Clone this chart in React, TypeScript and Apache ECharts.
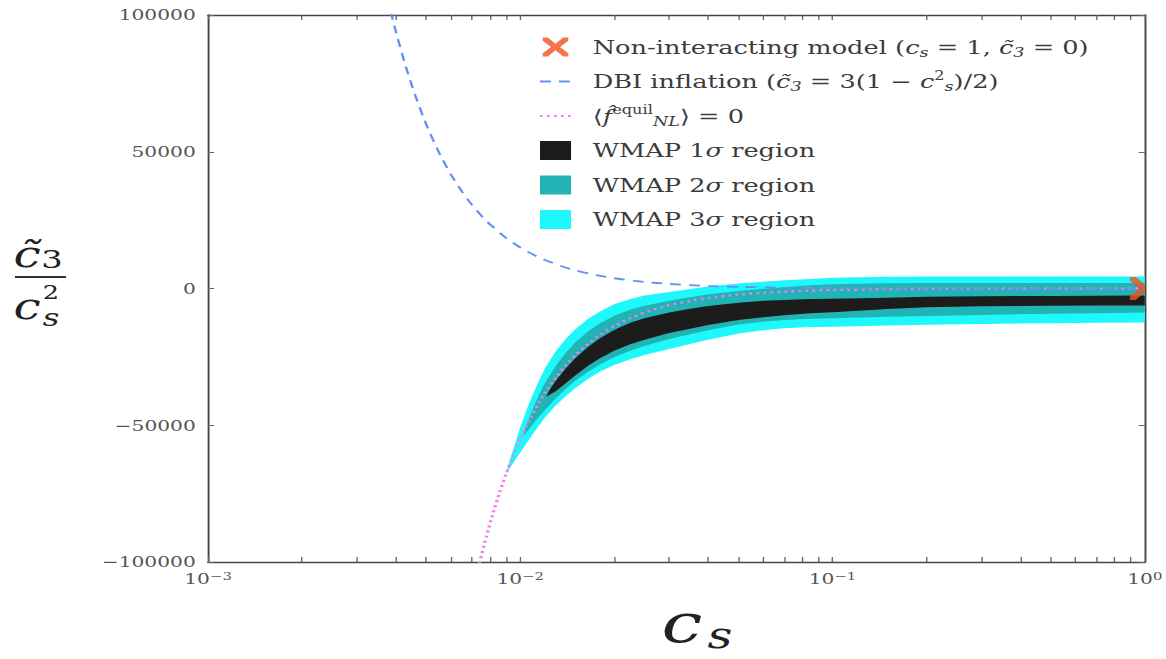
import React, { useEffect, useRef } from 'react';
import * as echarts from 'echarts';

// ---------- data ----------
const xMajorTicks = [0.001, 0.01, 0.1, 1];
const xMinorMultipliers = [2, 3, 4, 5, 6, 7, 8, 9];
const yTicks = [-100000, -50000, 0, 50000, 100000];

// DBI inflation curve (dashed blue)
const dbiX = [0.00385, 0.004, 0.0043, 0.0046, 0.005, 0.0055, 0.006, 0.0065, 0.007, 0.0075, 0.008, 0.009, 0.01, 0.011, 0.012, 0.0135, 0.015, 0.0175, 0.02, 0.025, 0.03, 0.04, 0.05, 0.07, 0.1, 0.15, 0.2, 0.3, 0.5, 0.7, 1];
const dbiY = [101200, 93750, 81125, 70888, 60000, 49587, 41667, 35503, 30612, 26667, 23437, 18518, 15000, 12397, 10417, 8230, 6667, 4898, 3750, 2400, 1667, 936, 599, 305, 149, 65, 36, 15, 4.5, 1.6, 0];

// <f_NL^equil> = 0 curve (dotted violet)
const fnlX = [0.0074, 0.0078, 0.0082, 0.0086, 0.009, 0.0095, 0.01, 0.0105, 0.011, 0.0115, 0.012, 0.013, 0.014, 0.015, 0.0165, 0.018, 0.02, 0.0225, 0.025, 0.03, 0.035, 0.04, 0.05, 0.06, 0.07, 0.085, 0.1, 0.15, 0.2, 0.3, 0.5, 0.7, 1];
const fnlY = [-100430, -90400, -81790, -74360, -67900, -60940, -55000, -49880, -45450, -41580, -38190, -32540, -28060, -24440, -20200, -16970, -13745, -10860, -8795, -6106, -4484, -3432, -2195, -1522, -1117, -756, -545, -239, -132, -56, -17, -6, 0];

// WMAP 3 sigma region (cyan)
const s3X = [0.009, 0.0093, 0.0097, 0.01, 0.0105, 0.011, 0.0115, 0.012, 0.013, 0.014, 0.015, 0.0165, 0.018, 0.02, 0.0225, 0.025, 0.03, 0.035, 0.04, 0.05, 0.06, 0.07, 0.085, 0.1, 0.15, 0.2, 0.3, 0.5, 0.7, 1];
const s3Hi = [-67900, -62100, -55450, -50700, -44080, -38450, -33580, -29190, -22940, -18360, -14940, -11100, -8370, -5745, -3860, -2600, -1300, -180, 770, 1800, 2480, 2980, 3500, 3900, 4300, 4400, 4400, 4400, 4400, 4400];
const s3Lo = [-67900, -65390, -62250, -60000, -56380, -53050, -49980, -47190, -42740, -39260, -36440, -33000, -30370, -27945, -25860, -24295, -22106, -20284, -18732, -16495, -15222, -14517, -14056, -13945, -13539, -13232, -12956, -12717, -12506, -12400];

// WMAP 2 sigma region (teal)
const s2X = [0.0102, 0.0105, 0.011, 0.0115, 0.012, 0.013, 0.014, 0.015, 0.0165, 0.018, 0.02, 0.0225, 0.025, 0.03, 0.035, 0.04, 0.05, 0.06, 0.07, 0.085, 0.1, 0.15, 0.2, 0.3, 0.5, 0.7, 1];
const s2Hi = [-53860, -49580, -43650, -38780, -34590, -28240, -23460, -19740, -15600, -12670, -9945, -7760, -6295, -4506, -3184, -2132, -895, -122, 483, 1144, 1555, 1961, 2018, 2044, 2033, 1994, 2000];
const s2Lo = [-53860, -52380, -49450, -46780, -44390, -40140, -36660, -33740, -30400, -27770, -25145, -22760, -20995, -18506, -16684, -15232, -13195, -12122, -11517, -11056, -10845, -10339, -10032, -9656, -9217, -9006, -8800];

// WMAP 1 sigma region (black)
const s1X = [0.0121, 0.0125, 0.013, 0.014, 0.015, 0.0165, 0.018, 0.02, 0.0225, 0.025, 0.03, 0.035, 0.04, 0.05, 0.06, 0.07, 0.085, 0.1, 0.15, 0.2, 0.3, 0.5, 0.7, 1];
const s1Hi = [-39560, -36600, -33740, -29160, -25540, -21300, -18170, -15145, -12560, -10895, -8806, -7384, -6432, -5195, -4522, -4167, -3856, -3745, -3339, -3032, -2856, -2717, -2606, -2550];
const s1Lo = [-39560, -38700, -37540, -34560, -31840, -28200, -25470, -22745, -20360, -18695, -16306, -14684, -13332, -11495, -10522, -9817, -9056, -8645, -7539, -6832, -6456, -6317, -6206, -6200];

// Non-interacting model point
const nonIntPoint = [[1, 0]];

// ---------- names ----------
const N_NONINT = 'Non-interacting model (cs = 1, c̃3 = 0)';
const N_DBI = 'DBI inflation (c̃3 = 3(1 − cs²)/2)';
const N_FNL = '⟨f̂ equil NL⟩ = 0';
const N_S1 = 'WMAP 1σ region';
const N_S2 = 'WMAP 2σ region';
const N_S3 = 'WMAP 3σ region';

const legendRich: Record<string, string> = {
  [N_NONINT]: '{g| }Non-interacting model ({i|c}{sub|s} = 1, {i|c̃}{sub|3} = 0)',
  [N_DBI]: '{g| }DBI inflation ({i|c̃}{sub|3} = 3(1 − {i|c}{sup|2}{sub|s})/2)',
  [N_FNL]: '{g| }⟨{i|f̂}{sup|equil}{sub|NL}⟩ = 0',
  [N_S1]: '{g| }WMAP 1{i|σ} region',
  [N_S2]: '{g| }WMAP 2{i|σ} region',
  [N_S3]: '{g| }WMAP 3{i|σ} region',
};

const COL_S3 = '#1ef8fa';
const COL_S2 = '#20b4b4';
const COL_S1 = '#1c1c1c';
const COL_FNL = '#e97fe9';
const COL_DBI = '#6592f0';
const COL_X = '#f4511e';
const TXT = '#3c3c3c';

const SERIF = 'DejaVu Serif';

// The reference figure is stretched horizontally; the chart is laid out at a
// narrower width and stretched by the same factor so texts keep that look.
const S = 1.35;
const PAGE_W = 1166;
const PAGE_H = 659;
const px = (v: number) => v / S; // page x -> chart x

const X_FULL = 'path://M0,0 L4,0 L10,6.5 L16,0 L20,0 L20,3.5 L13.5,10 L20,16.5 L20,20 L16,20 L10,13.5 L4,20 L0,20 L0,16.5 L6.5,10 L0,3.5 Z';
const X_HALF = 'path://M0,0 L4,0 L10,6.5 L10,13.5 L4,20 L0,20 L0,16.5 L6.5,10 L0,3.5 Z';
const NO_SYMBOL = 'path://M0,0 L1,1';

function bandSeries(name: string, xs: number[], hi: number[], lo: number[], color: string, z: number) {
  return {
    type: 'custom',
    name,
    z,
    clip: true,
    data: xs.map((x, i) => [x, hi[i], lo[i]]),
    encode: { x: 0, y: [1, 2] },
    itemStyle: { color },
    renderItem: (params: any, api: any) => {
      if (params.dataIndex !== 0) return null;
      const pts: number[][] = [];
      for (let i = 0; i < xs.length; i++) pts.push(api.coord([xs[i], hi[i]]));
      for (let i = xs.length - 1; i >= 0; i--) pts.push(api.coord([xs[i], lo[i]]));
      return { type: 'polygon', shape: { points: pts }, style: { fill: color } };
    },
  };
}

function txt(x: number, y: number, text: string, font: string) {
  return {
    type: 'text',
    x: px(x),
    y,
    style: { text, font, fill: '#222', align: 'center', verticalAlign: 'middle' },
  };
}

function buildOption() {
  const minorTicks: number[] = [];
  for (let d = 0; d < xMajorTicks.length; d++) {
    minorTicks.push(xMajorTicks[d]);
    if (d < xMajorTicks.length - 1) {
      for (const m of xMinorMultipliers) minorTicks.push(+(m * xMajorTicks[d]).toPrecision(6));
    }
  }
  const axisLineStyle = { color: '#444', width: 1.4 };
  const tickStyle = { color: '#666', width: 1 };
  const xBase = {
    type: 'log',
    logBase: 10,
    min: 0.001,
    max: 1,
    axisLine: { show: true, onZero: false, lineStyle: axisLineStyle },
    axisTick: { show: true, inside: true, length: 5, customValues: minorTicks, lineStyle: tickStyle },
    splitLine: { show: false },
    minorSplitLine: { show: false },
  };
  const yBase = {
    type: 'value',
    min: -100000,
    max: 100000,
    interval: 50000,
    axisLine: { show: true, onZero: false, lineStyle: axisLineStyle },
    axisTick: { show: true, inside: true, length: 4.5, lineStyle: tickStyle },
    splitLine: { show: false },
  };
  return {
    animation: false,
    backgroundColor: '#ffffff',
    grid: { left: px(208), right: px(16), top: 15, bottom: 97 },
    xAxis: [
      {
        ...xBase,
        position: 'bottom',
        axisLabel: {
          show: true,
          customValues: xMajorTicks,
          margin: 9,
          color: '#555',
          fontFamily: SERIF,
          fontSize: 15,
          formatter: (v: number) => '10{sup|' + String(Math.round(Math.log10(v))).replace('-', '−') + '}',
          rich: { sup: { fontSize: 11, verticalAlign: 'top', lineHeight: 11, fontFamily: SERIF, color: '#555' } },
        },
      },
      { ...xBase, position: 'top', axisLabel: { show: false } },
    ],
    yAxis: [
      {
        ...yBase,
        position: 'left',
        axisLabel: {
          show: true,
          margin: 9,
          color: '#555',
          fontFamily: SERIF,
          fontSize: 15,
          customValues: yTicks,
          formatter: (v: number) => (v < 0 ? '−' + String(-v) : String(v)),
        },
      },
      { ...yBase, position: 'right', axisLabel: { show: false } },
    ],
    legend: {
      orient: 'vertical',
      left: 394,
      top: 30,
      padding: 5,
      itemGap: 10.5,
      itemWidth: 23,
      itemHeight: 19,
      selectedMode: false,
      data: [
        { name: N_NONINT, icon: X_FULL },
        { name: N_DBI },
        { name: N_FNL },
        { name: N_S1, icon: 'rect' },
        { name: N_S2, icon: 'rect' },
        { name: N_S3, icon: 'rect' },
      ],
      formatter: (name: string) => legendRich[name] || name,
      textStyle: {
        fontFamily: SERIF,
        fontSize: 19,
        color: TXT,
        lineHeight: 24,
        rich: {
          g: { width: 11, lineHeight: 24 },
          i: { fontStyle: 'italic', fontFamily: SERIF, fontSize: 19, lineHeight: 24, color: TXT },
          sub: { fontStyle: 'italic', fontFamily: SERIF, fontSize: 13, lineHeight: 14, verticalAlign: 'bottom', color: TXT },
          sup: { fontFamily: SERIF, fontSize: 12, lineHeight: 12, verticalAlign: 'top', color: TXT },
        },
      },
    },
    graphic: [
      // y-axis title: c~3 / cs^2
      txt(27, 254, 'c̃', 'italic 36px "DejaVu Serif"'),
      txt(52, 259, '3', '25px "DejaVu Serif"'),
      {
        type: 'line',
        shape: { x1: px(15), y1: 277, x2: px(66), y2: 277 },
        style: { stroke: '#333', lineWidth: 2 },
      },
      txt(27, 306, 'c', 'italic 36px "DejaVu Serif"'),
      txt(51, 292, '2', '19px "DejaVu Serif"'),
      txt(51, 318, 's', 'italic 24px "DejaVu Serif"'),
      // x-axis title: cs
      txt(682, 623, 'c', 'italic 54px "DejaVu Serif"'),
      txt(720, 635, 's', 'italic 36px "DejaVu Serif"'),
    ],
    series: [
      bandSeries(N_S3, s3X, s3Hi, s3Lo, COL_S3, 1),
      bandSeries(N_S2, s2X, s2Hi, s2Lo, COL_S2, 2),
      bandSeries(N_S1, s1X, s1Hi, s1Lo, COL_S1, 3),
      {
        type: 'line',
        name: N_FNL,
        z: 4,
        data: fnlX.map((x, i) => [x, fnlY[i]]),
        symbol: NO_SYMBOL,
        showSymbol: false,
        smooth: 0.2,
        clip: true,
        itemStyle: { color: COL_FNL },
        lineStyle: { color: COL_FNL, width: 2.5, type: [2, 3.2] },
      },
      {
        type: 'line',
        name: N_DBI,
        z: 5,
        data: dbiX.map((x, i) => [x, dbiY[i]]),
        symbol: NO_SYMBOL,
        showSymbol: false,
        smooth: 0.2,
        clip: true,
        itemStyle: { color: COL_DBI },
        lineStyle: { color: COL_DBI, width: 1.8, type: [8, 6] },
      },
      {
        type: 'scatter',
        name: N_NONINT,
        z: 6,
        clip: false,
        data: nonIntPoint,
        symbol: X_HALF,
        symbolSize: [11, 23],
        symbolOffset: [-5.5, 0],
        itemStyle: { color: COL_X },
      },
    ],
  };
}

export default function App() {
  const ref = useRef<HTMLDivElement>(null);
  useEffect(() => {
    if (!ref.current) return;
    const chart = echarts.init(ref.current, undefined, { renderer: 'svg' });
    chart.setOption(buildOption() as any);
    return () => chart.dispose();
  }, []);
  return (
    <div style={{ position: 'absolute', left: 0, top: 0, width: PAGE_W, height: PAGE_H, overflow: 'hidden', background: '#fff' }}>
      <div
        ref={ref}
        style={{
          width: Math.round(PAGE_W / S),
          height: PAGE_H,
          transform: `scaleX(${S})`,
          transformOrigin: '0 0',
        }}
      />
    </div>
  );
}
